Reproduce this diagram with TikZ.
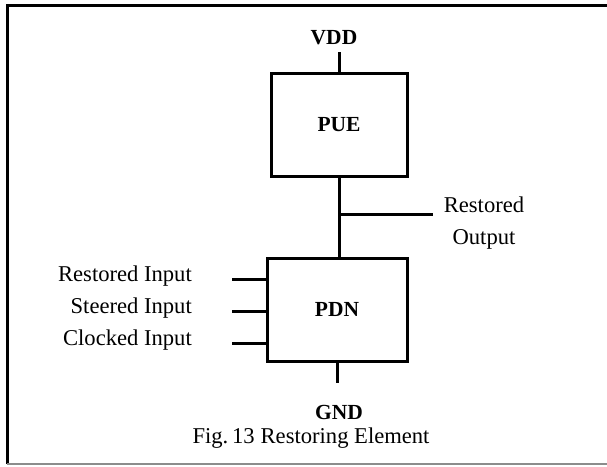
\documentclass[tikz,border=0pt]{standalone}
\usepackage{fontspec}
\setmainfont{Liberation Serif}
\usepackage{tikz}
\usepackage{xcolor}

\begin{document}
\begin{tikzpicture}[x=1pt, y=-1pt,
    wire/.style={line width=3pt},
    block/.style={draw, line width=3pt, rectangle, inner sep=0pt},
    lbl/.style={font=\fontsize{22.6}{32}\selectfont, inner sep=0pt},
    rail/.style={font=\bfseries\fontsize{21.5}{26}\selectfont, inner sep=0pt}]
\useasboundingbox (0,0) rectangle (607,466);

% Frame
\draw[line width=3pt] (7,464) -- (7,5) -- (607,5);
\draw[black!45, line width=1.4pt] (7,464) -- (607,464);

% Pull-up element
\node[rail] (vdd) at (334,38) {VDD};
\node[block, minimum width=136pt, minimum height=103pt] (pue) at (339,124.5) {};
\node[rail] (puelbl) at (pue.center) {PUE};
\coordinate (vddpin) at (339,52);
\draw[wire] (pue.north) -- (vddpin);

% Pull-down network
\node[block, minimum width=140pt, minimum height=103pt] (pdn) at (337,309.5) {};
\node[rail] (pdnlbl) at (pdn.center) {PDN};
\draw[wire] (pue.south) -- (pue.south |- pdn.north);

% Output tap
\coordinate (tap) at (338,214);
\coordinate (outend) at (433,214);
\draw[wire] (tap) -- (outend);
\node[lbl, align=center] (out) at (484,223) {Restored\\Output};

% Inputs
\foreach \y/\name/\txt in {279/rin/Restored Input, 311/sin/Steered Input, 343/cin/Clocked Input} {
    \node[lbl, anchor=east] (\name) at (192,\y-3) {\txt};
    \coordinate (\name pin) at (232,\y);
    \draw[wire] (pdn.west |- \name pin) -- (\name pin);
}

% Ground
\node[rail] (gnd) at (339,412) {GND};
\coordinate (gndpin) at (337,383);
\draw[wire] (pdn.south) -- (gndpin);

% Caption
\node[lbl] (cap) at (311,438) {Fig.\,13\hspace{6pt}Restoring Element};
\end{tikzpicture}
\end{document}
